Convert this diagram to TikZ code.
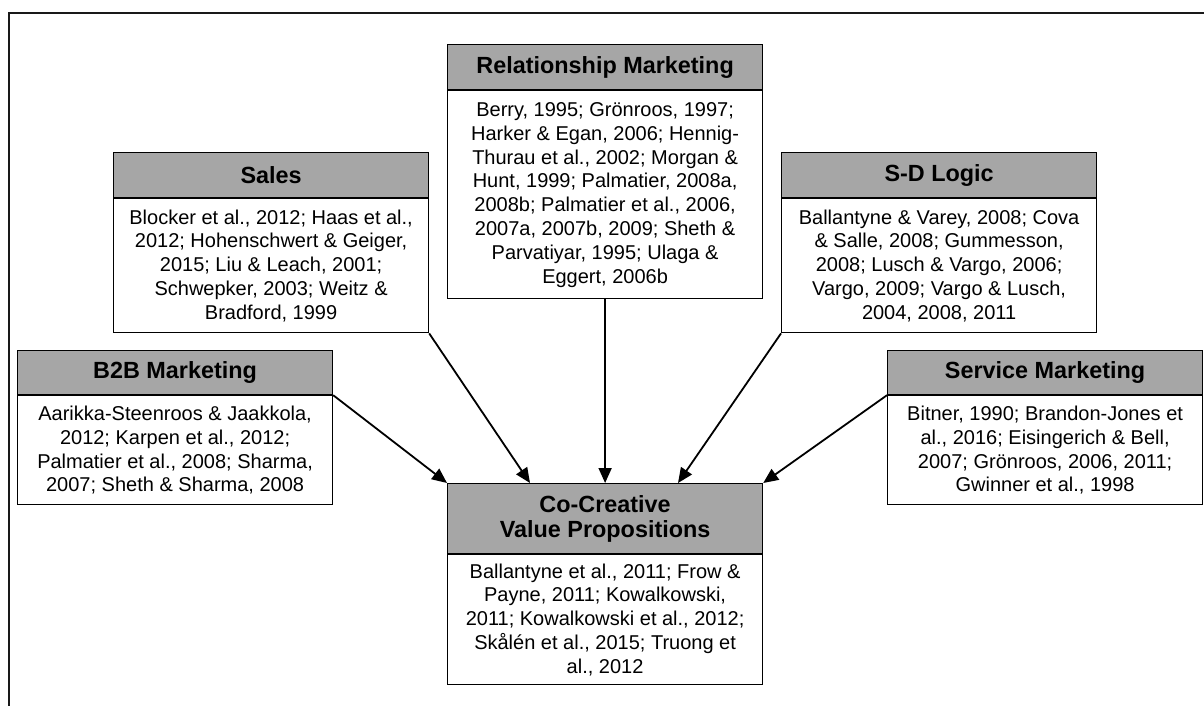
\documentclass[tikz,border=0pt]{standalone}
\usepackage{fontspec}
\setmainfont{Liberation Sans}
\usetikzlibrary{arrows.meta}
\definecolor{hdrgray}{RGB}{166,166,166}
\begin{document}
\begin{tikzpicture}[x=1pt,y=-1pt,
  hdr/.style={draw=black, line width=1.2pt, fill=hdrgray, minimum width=315pt, inner sep=0pt,
    anchor=north west, align=center, font=\bfseries\fontsize{23.4}{25}\selectfont},
  bodybox/.style={draw=black, line width=1.2pt, fill=white, minimum width=315pt, inner sep=0pt,
    anchor=north, align=center, font=\fontsize{20}{23.8}\selectfont},
  conn/.style={line width=1.8pt, -{Triangle[length=15pt,width=13pt]}}]
\useasboundingbox (0,0) rectangle (1204,706);
% outer frame (left and top edges)
\draw[line width=1.6pt, black!90] (9,706) -- (9,13) -- (1204,13);

% Relationship Marketing
\node[hdr, minimum height=45pt] (relh) at (447,44) {Relationship Marketing};
\node[bodybox, minimum height=208pt] (relb) at (relh.south) {Berry, 1995; Grönroos, 1997;\\Harker \& Egan, 2006; Hennig-\\Thurau et al., 2002; Morgan \&\\Hunt, 1999; Palmatier, 2008a,\\2008b; Palmatier et al., 2006,\\2007a, 2007b, 2009; Sheth \&\\Parvatiyar, 1995; Ulaga \&\\Eggert, 2006b};

% Sales
\node[hdr, minimum height=45pt] (salh) at (113,152) {Sales};
\node[bodybox, minimum height=134pt] (salb) at (salh.south) {Blocker et al., 2012; Haas et al.,\\2012; Hohenschwert \& Geiger,\\2015; Liu \& Leach, 2001;\\Schwepker, 2003; Weitz \&\\Bradford, 1999};

% S-D Logic
\node[hdr, minimum height=45pt] (sdh) at (781,152) {S-D Logic};
\node[bodybox, minimum height=134pt] (sdb) at (sdh.south) {Ballantyne \& Varey, 2008; Cova\\\& Salle, 2008; Gummesson,\\2008; Lusch \& Vargo, 2006;\\Vargo, 2009; Vargo \& Lusch,\\2004, 2008, 2011};

% B2B Marketing
\node[hdr, minimum height=44pt] (b2bh) at (17,350) {B2B Marketing};
\node[bodybox, minimum height=109pt] (b2bb) at (b2bh.south) {Aarikka-Steenroos \& Jaakkola,\\2012; Karpen et al., 2012;\\Palmatier et al., 2008; Sharma,\\2007; Sheth \& Sharma, 2008};

% Service Marketing
\node[hdr, minimum height=44pt] (svh) at (887,350) {Service Marketing};
\node[bodybox, minimum height=109pt] (svb) at (svh.south) {Bitner, 1990; Brandon-Jones et\\al., 2016; Eisingerich \& Bell,\\2007; Grönroos, 2006, 2011;\\Gwinner et al., 1998};

% Co-Creative Value Propositions
\node[hdr, minimum height=70pt] (cch) at (447,483) {Co-Creative\\Value Propositions};
\node[bodybox, minimum height=130pt] (ccb) at (cch.south) {Ballantyne et al., 2011; Frow \&\\Payne, 2011; Kowalkowski,\\2011; Kowalkowski et al., 2012;\\Skålén et al., 2015; Truong et\\al., 2012};

% arrow targets on top of the Co-Creative box
\coordinate (tS) at (530,483);
\coordinate (tSD) at (678,483);

% connectors
\draw[conn] (b2bh.south east) -- (cch.north west);
\draw[conn] (salb.south east) -- (tS);
\draw[conn] (relb.south) -- (cch.north);
\draw[conn] (sdb.south west) -- (tSD);
\draw[conn] (svh.south west) -- (cch.north east);
\end{tikzpicture}
\end{document}
